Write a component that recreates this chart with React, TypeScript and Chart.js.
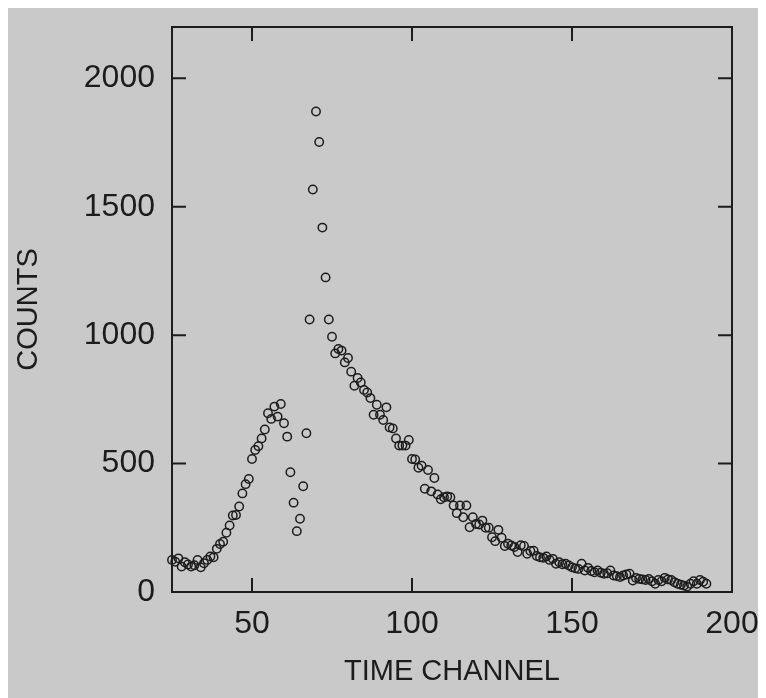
import { useEffect, useRef } from 'react';
import { Chart, registerables } from 'chart.js';

Chart.register(...registerables);

// ---- data ----
const FIRST_CHANNEL = 25;
// channels 25-67
const countsRise = [
  125, 118, 131, 99, 116, 107, 99, 104, 125, 96,
  112, 125, 138, 135, 168, 187, 196, 231, 259, 298,
  300, 333, 384, 420, 440, 518, 553, 568, 598, 633,
  696, 674, 722, 683, 732, 657, 605, 466, 348, 237,
  285, 412, 618,
];
// channels 68-99
const countsPeak = [
  1061, 1567, 1871, 1752, 1419, 1225, 1061, 994, 929, 946,
  940, 894, 911, 858, 803, 833, 816, 787, 777, 755,
  690, 729, 690, 670, 719, 641, 637, 598, 570, 570,
  570, 592,
];
// channels 100-139
const countsDecay = [
  518, 516, 484, 492, 402, 475, 392, 444, 380, 361,
  369, 372, 369, 337, 307, 337, 291, 337, 252, 291,
  265, 263, 278, 250, 250, 213, 198, 242, 211, 179,
  188, 181, 175, 156, 182, 179, 149, 160, 161, 140,
];
// channels 140-192
const countsTail = [
  135, 133, 138, 125, 129, 110, 116, 108, 110, 103,
  96, 92, 90, 110, 84, 94, 82, 77, 84, 75,
  71, 73, 84, 64, 62, 58, 64, 68, 71, 45,
  55, 51, 49, 47, 51, 42, 32, 47, 42, 55,
  49, 47, 38, 32, 28, 25, 21, 32, 42, 32,
  47, 40, 32,
];

const xTickValues = [50, 100, 150, 200];
const yTickValues = [0, 500, 1000, 1500, 2000];
const X_MIN = 25;
const X_MAX = 200;
const Y_MIN = 0;
const Y_MAX = 2200;
const xTitle = 'TIME CHANNEL';
const yTitle = 'COUNTS';

const INK = '#1c1c1c';
const PAPER = '#c9c9c9';
const FONT = "'Liberation Sans', Arial, sans-serif";

export default function App() {
  const ref = useRef<HTMLCanvasElement | null>(null);

  useEffect(() => {
    document.documentElement.style.overflow = 'hidden';
    document.body.style.overflow = 'hidden';
    const canvas = ref.current;
    if (!canvas) return;

    const counts = [...countsRise, ...countsPeak, ...countsDecay, ...countsTail];
    const points = counts.map((c, i) => ({ x: FIRST_CHANNEL + i, y: c }));

    const framePlugin = {
      id: 'frameAndTitles',
      beforeDraw(chart: any) {
        const { ctx, width, height } = chart;
        ctx.save();
        ctx.fillStyle = PAPER;
        ctx.fillRect(0, 0, width, height);
        ctx.restore();
      },
      afterDraw(chart: any) {
        const { ctx, chartArea } = chart;
        const { left, right, top, bottom } = chartArea;
        const xs = chart.scales.x;
        const ys = chart.scales.y;
        ctx.save();
        ctx.strokeStyle = INK;
        ctx.lineWidth = 2;
        ctx.strokeRect(left, top, right - left, bottom - top);
        ctx.beginPath();
        const tl = 14;
        xs.ticks.forEach((t: any) => {
          const px = xs.getPixelForValue(t.value);
          ctx.moveTo(px, bottom);
          ctx.lineTo(px, bottom - tl);
          ctx.moveTo(px, top);
          ctx.lineTo(px, top + tl);
        });
        ys.ticks.forEach((t: any) => {
          const py = ys.getPixelForValue(t.value);
          ctx.moveTo(left, py);
          ctx.lineTo(left + tl, py);
          ctx.moveTo(right, py);
          ctx.lineTo(right - tl, py);
        });
        ctx.stroke();

        ctx.fillStyle = INK;
        ctx.font = `29px ${FONT}`;
        ctx.textAlign = 'center';
        ctx.textBaseline = 'middle';
        ctx.fillText(xTitle, (left + right) / 2, 664);
        ctx.translate(21, (top + bottom) / 2);
        ctx.rotate(-Math.PI / 2);
        ctx.fillText(yTitle, 0, 0);
        ctx.restore();
      },
    };

    const chart = new Chart(canvas, {
      type: 'scatter',
      data: {
        datasets: [
          {
            data: points,
            showLine: false,
            pointStyle: 'circle',
            pointRadius: 4.2,
            pointBorderWidth: 1.5,
            pointBorderColor: INK,
            pointBackgroundColor: 'rgba(0,0,0,0)',
            clip: false as any,
          },
        ],
      },
      options: {
        responsive: false,
        animation: false,
        events: [],
        layout: { padding: { left: 0, top: 19, right: 34, bottom: 0 } },
        plugins: {
          legend: { display: false },
          tooltip: { enabled: false },
          title: { display: false },
        },
        scales: {
          x: {
            type: 'linear',
            min: X_MIN,
            max: X_MAX,
            grid: { display: false, drawTicks: false },
            border: { display: false },
            afterBuildTicks: (s: any) => {
              s.ticks = xTickValues.map((v) => ({ value: v }));
            },
            afterFit: (s: any) => {
              s.height = 106;
              s.paddingLeft = 0;
              s.paddingRight = 0;
            },
            ticks: {
              color: INK,
              font: { family: FONT, size: 32 },
              padding: 13,
              maxRotation: 0,
              autoSkip: false,
              callback: (v: any) => String(v),
            },
          },
          y: {
            type: 'linear',
            min: Y_MIN,
            max: Y_MAX,
            grid: { display: false, drawTicks: false },
            border: { display: false },
            afterBuildTicks: (s: any) => {
              s.ticks = yTickValues.map((v) => ({ value: v }));
            },
            afterFit: (s: any) => {
              s.width = 164;
              s.paddingTop = 0;
              s.paddingBottom = 0;
            },
            ticks: {
              color: INK,
              font: { family: FONT, size: 32 },
              padding: 17,
              autoSkip: false,
              callback: (v: any) => String(v),
            },
          },
        },
      },
      plugins: [framePlugin],
    });

    return () => chart.destroy();
  }, []);

  return (
    <div style={{ width: 758, height: 690 }}>
      <canvas ref={ref} width={758} height={690} style={{ display: 'block', width: 758, height: 690 }} />
    </div>
  );
}
